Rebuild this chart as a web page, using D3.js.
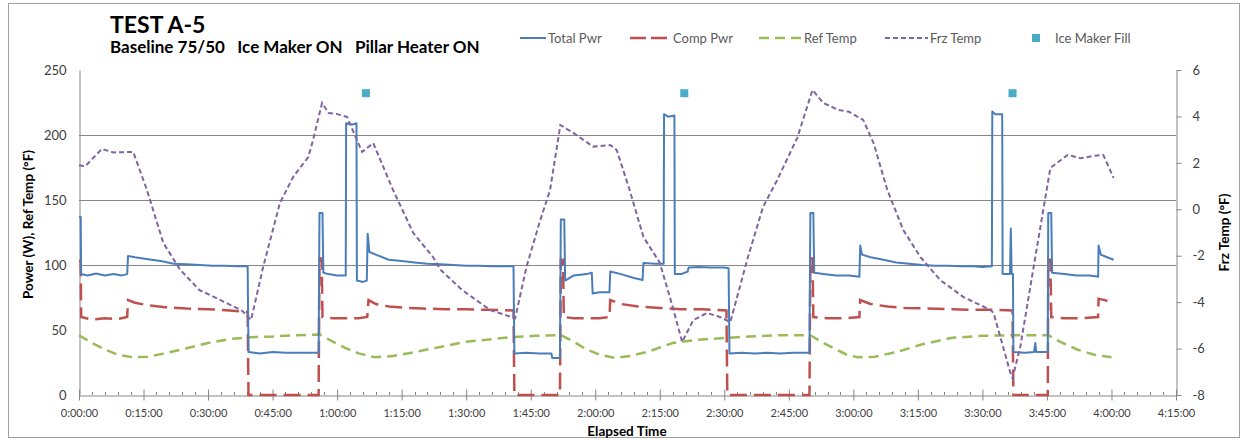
<!DOCTYPE html>
<html>
<head>
<meta charset="utf-8">
<script src="https://cdn.jsdelivr.net/npm/d3@7"></script>
<style>
  html, body { margin: 0; padding: 0; background: #ffffff; }
  svg { display: block; font-family: Lato, "Open Sans", "Liberation Sans", sans-serif; }
</style>
</head>
<body>
<svg id="chart" width="1247" height="440"></svg>
<script>
// Elapsed time in minutes, values as logged
const totalPwr = [
  [0,137],[0.4,137],[0.5,93],[2,92],[4,93.5],[6,92],[8,93],[10,92],[11.2,93],[11.4,107],[13,106],
  [16,104.5],[19,103],[22,101],[25,100.5],[28,100],[31,99.5],[34,99.5],[37,99],[39.2,99],[39.4,33],
  [42,32],[45,33],[48,32.5],[51,32.5],[54,32.5],[55.7,32.5],[55.9,140],[56.6,140],[56.8,94],[58,93],
  [60,92],[62,92],[62.1,209],[63.5,208],[64.5,209],[64.6,88],[66,87],[66.9,88],[67.1,124],[67.5,110],
  [69,108],[72,104],[75,103],[78,102],[81,101],[84,100.5],[87,100],[90,99.5],[93,99.5],[96,99],
  [99,99],[101,99],[101.2,32],[104,32.5],[107,32],[109.8,32],[110,28.5],[111.8,28.5],[112,135],
  [112.8,135],[113,88],[115,92],[118,93],[119.2,94],[119.4,78],[121,79],[123.3,79],[123.5,95],
  [126,93],[129,90],[131,88.5],[131.2,101.5],[134,101],[135.9,101],[136,216],[137,214],[138.4,215],
  [138.5,93],[140,93],[141.5,95],[141.7,98],[144,98.5],[147,98],[150,98],[151,97.5],[151.2,32],
  [154,32.5],[157,32],[160,32.5],[163,32],[166,32.5],[169.8,32.5],[170,140],[170.7,140],[170.9,94],
  [173,93],[176,92],[179,92],[181.4,91],[181.6,115],[182,108],[184,106],[187,104],[190,102],
  [193,101],[196,100],[199,99.5],[202,99.5],[205,99],[208,99],[210,98.5],[212.2,99],[212.3,218],
  [213,216],[214.6,216],[214.7,93],[216.4,93],[216.6,128],[216.8,93],[217.1,93],[217.2,33],
  [220,32.5],[222,33],[222.3,40],[222.5,33],[225.2,33],[225.3,140],[226,140],[226.2,94],[229,93],
  [232,92],[235,92],[236.9,91],[237,115],[237.5,108],[239,106],[240.5,104]
];

const compPwr = [
  [0,103],[0.4,103],[0.5,60],[3,58],[6,59],[9,58.5],[11.2,60],[11.4,73],[13,71],[16,69],[20,67.5],
  [25,66.5],[30,66],[35,65],[39.2,64],[39.4,0],[55.7,0],[55.9,105],[56.4,105],[56.6,60],[59,59],
  [62,59],[65,59],[67,60],[67.3,73],[69,70],[72,68],[76,67],[80,66.5],[85,66],[90,66],[95,65.5],
  [101,65],[101.2,0],[111.8,0],[112,104],[112.5,104],[112.7,60],[115,59],[118,59],[121,59],
  [123.3,60],[123.5,73],[126,70],[130,68],[135,67],[140,66],[145,66],[150.5,65],[150.7,0],
  [169.8,0],[170,105],[170.5,105],[170.7,60],[174,59],[178,59],[181.4,60],[181.6,73],[184,70],
  [188,68],[192,67],[197,66.5],[203,66],[208,65.5],[212,65.5],[217,65],[217.2,0],[225.2,0],
  [225.3,104],[225.8,104],[226,60],[229,59],[233,59],[236.9,60],[237,74],[238.5,73],[240,71]
];

const refTemp = [
  [0,46],[3,40],[6,35],[9,31],[12.6,29],[16,29.5],[20,32],[25,36],[30,40],[35,43],[40,44.5],
  [45,45],[50,46],[56,46.5],[59,41],[62,36],[65,32],[68.8,29],[73,30],[78,33],[84,37],[90,41],
  [96,43],[101,44.6],[106,45.5],[112,46],[115,41],[118,35],[121,31],[124.6,28.5],[128,30],
  [132,33],[138,40],[144,42.5],[150.7,44],[156,45],[163,46],[170,46],[173,40],[176,35],
  [178.5,31],[181,29],[185,29.5],[190,33],[196,39],[203,44],[210,45.5],[217,46],[225.3,46],
  [228,41],[232,35],[236,31],[240,29]
];

const frzTemp = [
  [0,1.9],[1.5,1.86],[5.3,2.6],[8,2.45],[12.6,2.47],[15.8,0.83],[19.6,-1.45],[23.5,-2.6],
  [28,-3.48],[32.8,-3.9],[38,-4.38],[40,-4.77],[42.8,-2.49],[46.7,0.27],[49.8,1.4],[53.3,2.25],
  [54.4,2.98],[56.5,4.58],[58,4.15],[60,4.1],[62.3,3.98],[65.8,2.47],[68.4,2.85],[73,0.83],
  [77.7,-1.02],[82.3,-2.06],[84,-2.6],[88.6,-3.4],[90,-3.6],[95.6,-4.34],[101.4,-4.69],
  [104,-2.49],[107,-0.6],[109.5,0.83],[111.9,3.63],[115,3.28],[119.5,2.7],[123.5,2.77],
  [125,2.55],[128,0.83],[131.2,-1.19],[135,-2.3],[138,-4.2],[140.2,-5.72],[142.8,-4.77],
  [146,-4.47],[149,-4.64],[151.4,-4.86],[155.3,-2.19],[159,0.1],[162.3,1.26],[167,3.1],
  [170.5,5.14],[173,4.58],[176.5,4.28],[179,4.2],[182.3,3.85],[184.7,2.85],[187.9,0.83],
  [191.6,-0.89],[195.6,-2.06],[200.2,-3.05],[205.6,-3.78],[211.9,-4.34],[212.6,-4.47],
  [216.5,-7.05],[217,-7.27],[218.8,-5.93],[221.9,-2.49],[225.8,1.78],[229.8,2.34],[232.8,2.2],
  [236,2.3],[238.1,2.34],[240.5,1.35]
];

// Ice maker fill events (plotted on the freezer axis)
const iceMakerFill = [[66.7,5],[140.7,5],[217,5]];

// Axis ticks and labels
const timeTicks = d3.range(0, 256, 15);
const minorTimeTicks = d3.range(0, 256, 3).filter(m => m % 15 !== 0);
const leftTicks = [0, 50, 100, 150, 200, 250];
const gridValues = [100, 150, 200];
const rightTicks = [6, 4, 2, 0, -2, -4, -6, -8];

const titleText = "TEST A-5";
const subtitleText = "Baseline 75/50   Ice Maker ON   Pillar Heater ON";

const colors = {
  total: "#4a7ebb",
  comp: "#c0504d",
  ref: "#9bbb59",
  frz: "#8064a2",
  ice: "#4bacc6",
  axis: "#868686",
  text: "#404040"
};

const svg = d3.select("#chart");

const x = d3.scaleLinear().domain([0, 255]).range([79, 1176]);
const yL = d3.scaleLinear().domain([0, 250]).range([395, 70]);
const yR = d3.scaleLinear().domain([-8, 6]).range([395, 70]);

// outer chart frame
svg.append("rect")
  .attr("x", 8.5).attr("y", 3.5).attr("width", 1231).attr("height", 434)
  .attr("fill", "none").attr("stroke", "#a0a0a0").attr("stroke-width", 1);

// gridlines
svg.append("g").selectAll("line").data(gridValues).join("line")
  .attr("x1", x(0)).attr("x2", x(255))
  .attr("y1", d => Math.round(yL(d)) + 0.5).attr("y2", d => Math.round(yL(d)) + 0.5)
  .attr("stroke", colors.axis).attr("stroke-width", 1);

// left axis
const leftAxis = svg.append("g").attr("transform", `translate(${x(0) + 0.5},0)`)
  .call(d3.axisLeft(yL).tickValues(leftTicks).tickSize(0).tickPadding(13).tickFormat(d => String(d)));
leftAxis.select(".domain").attr("stroke", colors.axis);
leftAxis.selectAll("text").attr("font-size", 13).attr("fill", colors.text)
  .attr("font-family", "Lato, sans-serif");

// right axis
const rightAxis = svg.append("g").attr("transform", `translate(${x(255) + 0.5},0)`)
  .call(d3.axisRight(yR).tickValues(rightTicks).tickSize(5).tickSizeOuter(0).tickPadding(11).tickFormat(d => String(d)));
rightAxis.select(".domain").attr("stroke", colors.axis);
rightAxis.selectAll("line").attr("stroke", colors.axis);
rightAxis.selectAll("text").attr("font-size", 13).attr("fill", colors.text)
  .attr("font-family", "Lato, sans-serif");

// bottom axis with major and minor ticks
const fmtTime = m => `${Math.floor(m / 60)}:${String(m % 60).padStart(2, "0")}:00`;
const bottomAxis = svg.append("g").attr("transform", `translate(0,${yL(0) + 0.5})`)
  .call(d3.axisBottom(x).tickValues(timeTicks).tickSize(5).tickSizeOuter(0).tickPadding(9).tickFormat(fmtTime));
bottomAxis.select(".domain").attr("stroke", colors.axis);
bottomAxis.selectAll(".tick line").attr("stroke", colors.axis).attr("y1", -6);
bottomAxis.selectAll("text").attr("font-size", 11).attr("fill", colors.text)
  .attr("font-family", "Lato, sans-serif");
svg.append("g").selectAll("line").data(minorTimeTicks).join("line")
  .attr("x1", d => Math.round(x(d)) + 0.5).attr("x2", d => Math.round(x(d)) + 0.5)
  .attr("y1", yL(0) - 3).attr("y2", yL(0))
  .attr("stroke", colors.axis);

// series
const lineL = d3.line().x(d => x(d[0])).y(d => yL(d[1]));
const lineR = d3.line().x(d => x(d[0])).y(d => yR(d[1]));

svg.append("path").datum(refTemp).attr("d", lineL)
  .attr("fill", "none").attr("stroke", colors.ref).attr("stroke-width", 2.5)
  .attr("stroke-dasharray", "10,6");

svg.append("path").datum(compPwr).attr("d", lineL)
  .attr("fill", "none").attr("stroke", colors.comp).attr("stroke-width", 2.5)
  .attr("stroke-dasharray", "17,7");

svg.append("path").datum(totalPwr).attr("d", lineL)
  .attr("fill", "none").attr("stroke", colors.total).attr("stroke-width", 2)
  .attr("stroke-linejoin", "round");

svg.append("path").datum(frzTemp).attr("d", lineR)
  .attr("fill", "none").attr("stroke", colors.frz).attr("stroke-width", 2)
  .attr("stroke-dasharray", "5,3");

svg.append("g").selectAll("rect").data(iceMakerFill).join("rect")
  .attr("x", d => x(d[0]) - 4).attr("y", d => yR(d[1]) - 4)
  .attr("width", 8).attr("height", 8).attr("fill", colors.ice);

// titles
svg.append("text").attr("x", 110).attr("y", 33).text(titleText)
  .attr("font-size", 23).attr("font-weight", "bold").attr("fill", "#000");
svg.append("text").attr("x", 110).attr("y", 53).text(subtitleText)
  .attr("font-size", 17).attr("font-weight", "bold").attr("fill", "#000")
  .attr("xml:space", "preserve").style("white-space", "pre");

// axis titles
svg.append("text").attr("transform", `translate(33,${(yL(0) + yL(250)) / 2 - 8}) rotate(-90)`)
  .attr("text-anchor", "middle").attr("font-size", 13.5).attr("font-weight", "bold")
  .text("Power (W), Ref Temp (°F)");
svg.append("text").attr("transform", `translate(1229,${(yR(-8) + yR(6)) / 2}) rotate(-90)`)
  .attr("text-anchor", "middle").attr("font-size", 13.5).attr("font-weight", "bold")
  .text("Frz Temp (°F)");
svg.append("text").attr("x", 627).attr("y", 436)
  .attr("text-anchor", "middle").attr("font-size", 13.5).attr("font-weight", "bold")
  .text("Elapsed Time");

// legend
const legendItems = [
  { name: "Total Pwr", color: colors.total, dash: null, width: 2, x: 520, len: 26, kind: "line" },
  { name: "Comp Pwr", color: colors.comp, dash: "16,5", width: 2.5, x: 630, len: 41, kind: "line" },
  { name: "Ref Temp", color: colors.ref, dash: "10,6", width: 2.5, x: 759, len: 43, kind: "line" },
  { name: "Frz Temp", color: colors.frz, dash: "5,3", width: 2, x: 885, len: 43, kind: "line" },
  { name: "Ice Maker Fill", color: colors.ice, x: 1032, kind: "square" }
];
const legendY = 38;
const lg = svg.append("g").selectAll("g").data(legendItems).join("g");
lg.filter(d => d.kind === "line").append("line")
  .attr("x1", d => d.x).attr("x2", d => d.x + d.len)
  .attr("y1", legendY).attr("y2", legendY)
  .attr("stroke", d => d.color).attr("stroke-width", d => d.width)
  .attr("stroke-dasharray", d => d.dash);
lg.filter(d => d.kind === "square").append("rect")
  .attr("x", d => d.x).attr("y", legendY - 4).attr("width", 8).attr("height", 8)
  .attr("fill", d => d.color);
lg.append("text")
  .attr("x", d => d.kind === "square" ? d.x + 23 : d.x + d.len + 2)
  .attr("y", legendY + 4.5)
  .attr("font-size", 13).attr("fill", "#595959")
  .text(d => d.name);
</script>
</body>
</html>
